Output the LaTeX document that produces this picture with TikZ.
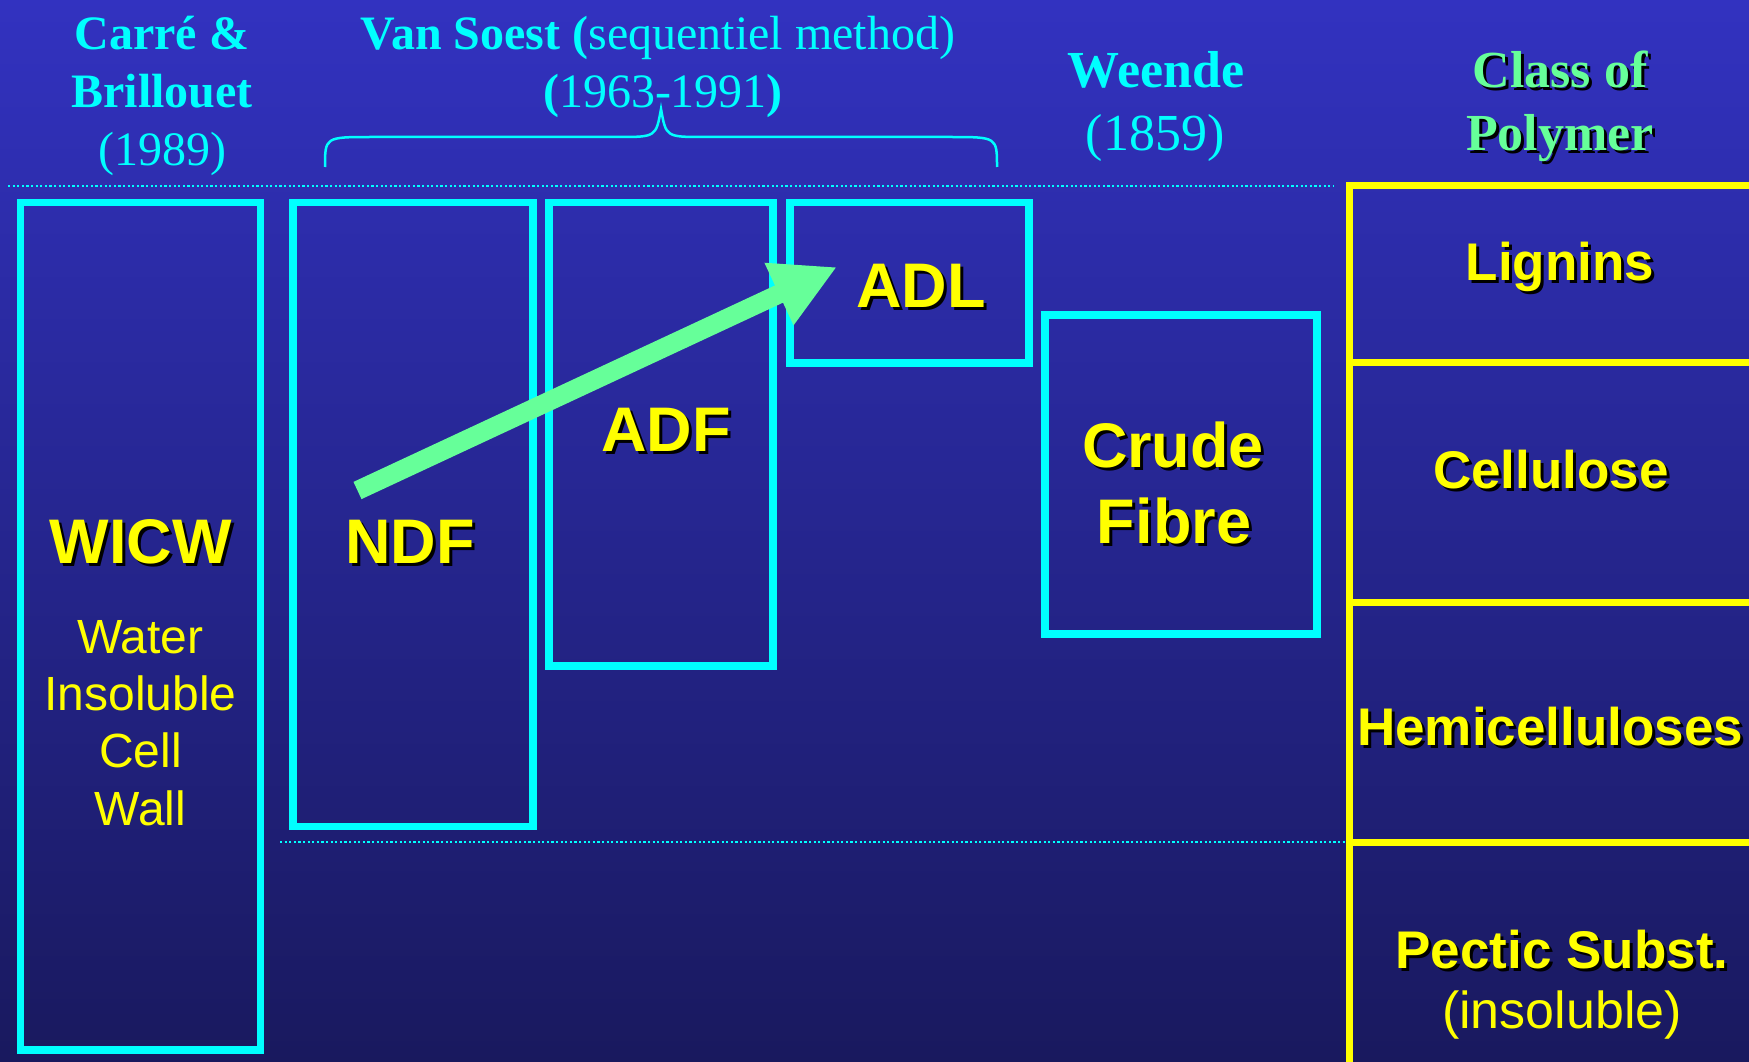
\documentclass[tikz,border=0pt]{standalone}
\usepackage{fontspec}
\setmainfont{Liberation Serif}
\newfontfamily\arialfont{Liberation Sans}
\usetikzlibrary{arrows.meta,fit,calc}
\definecolor{bgtop}{RGB}{50,50,192}
\definecolor{bgbot}{RGB}{25,25,94}
\definecolor{cyanc}{RGB}{0,255,255}
\definecolor{yel}{RGB}{255,255,0}
\definecolor{grn}{RGB}{102,255,153}
\newcommand\shadowed[4]{%
  \node[#3, text=black] (#1s) at ($(#2)+(3,3)$) {#4};
  \node[#3] (#1) at (#2) {#4};}
\tikzset{
  cbox/.style={draw=cyanc, line width=7.5pt, inner sep=0pt},
  ybox/.style={draw=yel, line width=7pt, inner sep=0pt},
  big/.style={anchor=base, inner sep=0pt, text=yel, font=\arialfont\bfseries\fontsize{63}{76}\selectfont},
  cell/.style={anchor=base, inner sep=0pt, text=yel, font=\arialfont\bfseries\fontsize{53}{62}\selectfont},
  plainy/.style={anchor=base, inner sep=0pt, text=yel, font=\arialfont\fontsize{48}{57}\selectfont},
  plainc/.style={anchor=base, inner sep=0pt, text=yel, font=\arialfont\fontsize{52}{62}\selectfont},
  hdr/.style={anchor=base, inner sep=0pt, text=cyanc, font=\fontsize{48}{57}\selectfont},
  hdrb/.style={anchor=base, inner sep=0pt, text=cyanc, font=\bfseries\fontsize{48}{57}\selectfont},
  hdrR/.style={anchor=base, inner sep=0pt, text=cyanc, font=\fontsize{52}{62}\selectfont},
  hdrRb/.style={anchor=base, inner sep=0pt, text=cyanc, font=\bfseries\fontsize{52}{62}\selectfont},
  hdrG/.style={anchor=base, inner sep=0pt, text=grn, font=\bfseries\fontsize{52}{62}\selectfont},
  dotline/.style={cyanc, line width=2.2pt, dash pattern=on 2.2pt off 2.4pt},
}
\begin{document}
\begin{tikzpicture}[x=1pt,y=-1pt]
\useasboundingbox (0,0) rectangle (1749,1062);
\clip (0,0) rectangle (1749,1062);
\shade[top color=bgtop, bottom color=bgbot] (0,0) rectangle (1749,1062);

% dotted guide lines
\coordinate (d1a) at (8,186);
\coordinate (d1b) at (1334,186);
\coordinate (d2a) at (280,842);
\coordinate (d2b) at (1349,842);
\draw[dotline] (d1a) -- (d1b);
\draw[dotline] (d2a) -- (d2b);

% cyan boxes
\node[cbox, fit={(20.5,202.5) (260.5,1050)}] (wicw) {};
\node[cbox, fit={(293,202.5) (533,826.5)}] (ndf) {};
\node[cbox, fit={(549,202.5) (773,666)}] (adf) {};
\node[cbox, fit={(790,202.5) (1029,363)}] (adl) {};
\node[cbox, fit={(1045,315) (1317,634)}] (crude) {};

% yellow table (open to the right and bottom)
\node[ybox, fit={(1349,186) (1770,362)}] (c1) {};
\node[ybox, fit={(1349,362) (1770,602)}] (c2) {};
\node[ybox, fit={(1349,602) (1770,842)}] (c3) {};
\node[ybox, fit={(1349,842) (1770,1080)}] (c4) {};

% brace
\draw[cyanc, line width=2.5pt] (325,167) .. controls (325,137) .. (372,137) -- (618,137)
  .. controls (656,137) .. (661,109) .. controls (666,137) .. (704,137) -- (950,137)
  .. controls (997,137) .. (997,167);

% arrow
\coordinate (arrS) at (357.5,490.5);
\coordinate (arrE) at (837,267);
\draw[grn, line width=19pt, -{Triangle[length=64pt,width=64pt]}] (arrS) -- (arrE);

% headers
\node[hdrb] (h1) at (162,50) {Carré \&};
\node[hdrb] (h2) at (162,107.5) {Brillouet};
\node[hdr] (h3) at (162,165) {(1989)};
\node[hdr] (h4) at (658,50) {\textbf{Van Soest (}sequentiel method)};
\node[hdr] (h5) at (663,107.5) {\textbf{(}1963-1991\textbf{)}};
\node[hdrRb] (h6) at (1156,88) {Weende};
\node[hdrR] (h7) at (1155,151) {(1859)};
\shadowed{h8}{1560,88}{hdrG}{Class of}
\shadowed{h9}{1560,151}{hdrG}{Polymer}

% box labels
\shadowed{lwicw}{140.5,563}{big}{WICW}
\node[plainy] (w1) at (140.5,653) {Water};
\node[plainy] (w2) at (140.5,710) {Insoluble};
\node[plainy] (w3) at (140.5,767) {Cell};
\node[plainy] (w4) at (140.5,825) {Wall};
\shadowed{lndf}{410,563}{big}{NDF}
\shadowed{ladf}{666,451}{big}{ADF}
\shadowed{ladl}{921,307}{big}{ADL}
\shadowed{lcr1}{1173,467}{big}{Crude}
\shadowed{lcr2}{1174,543}{big}{Fibre}

% table labels
\shadowed{t1}{1560,280}{cell}{Lignins}
\shadowed{t2}{1551,488}{cell}{Cellulose}
\shadowed{t3}{1357,745}{cell, anchor=base west}{Hemicelluloses}
\shadowed{t4}{1562,968}{cell}{Pectic Subst.}
\node[plainc] (t5) at (1562,1028) {(insoluble)};
\end{tikzpicture}
\end{document}
